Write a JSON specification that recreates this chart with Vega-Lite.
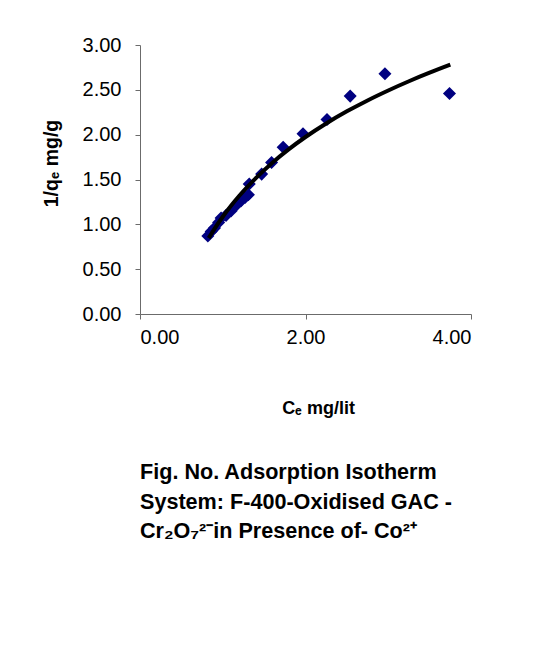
{
  "$schema": "https://vega.github.io/schema/vega-lite/v6.json",
  "autosize": "none",
  "width": 331,
  "height": 269,
  "padding": {"left": 140, "top": 45, "right": 84, "bottom": 338},
  "background": "white",
  "config": {
    "view": {"stroke": null},
    "font": "Liberation Sans",
    "axis": {
      "grid": false,
      "domainColor": "#6b6b6b",
      "tickColor": "#6b6b6b",
      "tickSize": 5,
      "labelFont": "Liberation Sans",
      "labelFontSize": 20,
      "labelColor": "#000000",
      "titleFont": "Liberation Sans",
      "titleFontSize": 18,
      "titleFontWeight": "bold",
      "titleColor": "#000000"
    }
  },
  "title": {
    "text": ["Fig. No. Adsorption Isotherm", "System: F-400-Oxidised GAC -", "Cr₂O₇²⁻in Presence of- Co²⁺"],
    "orient": "bottom",
    "anchor": "start",
    "frame": "group",
    "font": "Liberation Sans",
    "fontSize": 21.6,
    "fontWeight": "bold",
    "color": "#000000",
    "lineHeight": 29.5,
    "offset": 45
  },
  "datasets": {
    "points": [
      {"ce": 0.82, "q": 0.87},
      {"ce": 0.86, "q": 0.92},
      {"ce": 0.90, "q": 0.96},
      {"ce": 0.95, "q": 1.02},
      {"ce": 0.98, "q": 1.07},
      {"ce": 1.04, "q": 1.10},
      {"ce": 1.10, "q": 1.15},
      {"ce": 1.17, "q": 1.22},
      {"ce": 1.22, "q": 1.26},
      {"ce": 1.27, "q": 1.30},
      {"ce": 1.31, "q": 1.33},
      {"ce": 1.32, "q": 1.45},
      {"ce": 1.47, "q": 1.56},
      {"ce": 1.59, "q": 1.69},
      {"ce": 1.73, "q": 1.86},
      {"ce": 1.97, "q": 2.01},
      {"ce": 2.26, "q": 2.17},
      {"ce": 2.54, "q": 2.43},
      {"ce": 2.96, "q": 2.68},
      {"ce": 3.74, "q": 2.46}
    ],
    "curve": [
      {"ce": 0.83, "q": 0.846},
      {"ce": 0.9, "q": 0.950},
      {"ce": 1.0, "q": 1.085},
      {"ce": 1.1, "q": 1.207},
      {"ce": 1.2, "q": 1.319},
      {"ce": 1.4, "q": 1.516},
      {"ce": 1.6, "q": 1.688},
      {"ce": 1.8, "q": 1.839},
      {"ce": 2.0, "q": 1.974},
      {"ce": 2.25, "q": 2.125},
      {"ce": 2.5, "q": 2.260},
      {"ce": 2.75, "q": 2.382},
      {"ce": 3.0, "q": 2.493},
      {"ce": 3.25, "q": 2.596},
      {"ce": 3.5, "q": 2.691},
      {"ce": 3.75, "q": 2.780}
    ]
  },
  "layer": [
    {
      "data": {"name": "points"},
      "mark": {"type": "point", "shape": "diamond", "filled": true, "size": 170, "color": "#000080", "opacity": 1},
      "encoding": {
        "x": {
          "field": "ce", "type": "quantitative",
          "scale": {"domain": [0, 4], "nice": false, "zero": false},
          "axis": {"values": [0, 2, 4], "format": ".2f", "labelPadding": 8, "title": "Cₑ mg/lit", "titlePadding": 52, "titleX": 178}
        },
        "y": {
          "field": "q", "type": "quantitative",
          "scale": {"domain": [0, 3], "nice": false, "zero": false},
          "axis": {"values": [0, 0.5, 1, 1.5, 2, 2.5, 3], "format": ".2f", "labelPadding": 14, "title": "1/qₑ mg/g", "titleFontSize": 19.5, "titlePadding": 21, "titleY": 118}
        }
      }
    },
    {
      "data": {"name": "curve"},
      "mark": {"type": "line", "color": "#000000", "strokeWidth": 4, "interpolate": "monotone"},
      "encoding": {
        "x": {"field": "ce", "type": "quantitative"},
        "y": {"field": "q", "type": "quantitative"}
      }
    }
  ]
}
